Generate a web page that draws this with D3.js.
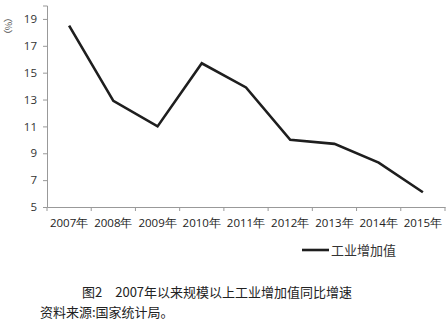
<!DOCTYPE html>
<html>
<head>
<meta charset="utf-8">
<script src="https://cdn.jsdelivr.net/npm/d3@7"></script>
<style>
body { margin: 0; background: #fff; }
svg { display: block; }
</style>
</head>
<body>
<script>
var width = 448;
var height = 323;

var years = ["2007年", "2008年", "2009年", "2010年", "2011年", "2012年", "2013年", "2014年", "2015年"];
var growth = [18.5, 12.9, 11.0, 15.7, 13.9, 10.0, 9.7, 8.3, 6.1];
var yTicks = [5, 7, 9, 11, 13, 15, 17, 19];
var seriesName = "工业增加值";
var unitLabel = "（%）";
var caption = "图2　2007年以来规模以上工业增加值同比增速";
var source = "资料来源:国家统计局。";

var latin = "'Open Sans', 'Liberation Sans', sans-serif";
var cjk = "'Noto Sans CJK SC', sans-serif";

var svg = d3.select("body").append("svg").attr("width", width).attr("height", height);

var x = d3.scaleBand().domain(years).range([47, 445]);
var y = d3.scaleLinear().domain([5, 20]).range([207, 5.5]);

// y axis
var yAxis = svg.append("g")
	.attr("transform", "translate(47,0)")
	.call(d3.axisLeft(y).tickValues(yTicks).tickSize(4).tickPadding(6));
yAxis.select(".domain").attr("stroke", "#999");
yAxis.selectAll(".tick line").attr("stroke", "#999");
yAxis.selectAll("text")
	.attr("fill", "#333")
	.style("font-family", latin)
	.style("font-size", "11.5px");

// x axis, ticks on category boundaries
var xAxis = svg.append("g")
	.attr("transform", "translate(0,207)")
	.call(d3.axisBottom(x).tickSize(0).tickPadding(12));
xAxis.select(".domain").attr("stroke", "#999");
xAxis.selectAll("text")
	.attr("fill", "#222")
	.style("font-family", latin)
	.style("font-size", "11.5px");

svg.append("g").selectAll("line")
	.data(years.concat(["end"]))
	.join("line")
	.attr("x1", function(d, i) { return x.range()[0] + i * x.step(); })
	.attr("x2", function(d, i) { return x.range()[0] + i * x.step(); })
	.attr("y1", 207)
	.attr("y2", 211)
	.attr("stroke", "#999");

// unit label, written vertically
svg.append("text")
	.attr("x", 8).attr("y", 13)
	.attr("writing-mode", "tb")
	.attr("fill", "#555")
	.style("font-family", cjk)
	.style("font-size", "9px")
	.text(unitLabel);

// the line
var line = d3.line()
	.x(function(d, i) { return x(years[i]) + x.bandwidth() / 2; })
	.y(function(d) { return y(d); });

svg.append("path")
	.datum(growth)
	.attr("fill", "none")
	.attr("stroke", "#1e1e1e")
	.attr("stroke-width", 2.6)
	.attr("stroke-linejoin", "miter")
	.attr("d", line);

// legend
svg.append("line")
	.attr("x1", 302).attr("x2", 329)
	.attr("y1", 250).attr("y2", 250)
	.attr("stroke", "#1e1e1e")
	.attr("stroke-width", 2.6);
svg.append("text")
	.attr("x", 331).attr("y", 254.5)
	.attr("fill", "#333")
	.style("font-family", cjk)
	.style("font-size", "13px")
	.text(seriesName);

// caption and source
svg.append("text")
	.attr("x", 82).attr("y", 297)
	.attr("fill", "#222")
	.style("font-family", cjk)
	.style("font-size", "13px")
	.text(caption);
svg.append("text")
	.attr("x", 40).attr("y", 317)
	.attr("fill", "#222")
	.style("font-family", cjk)
	.style("font-size", "13px")
	.text(source);
</script>
</body>
</html>
